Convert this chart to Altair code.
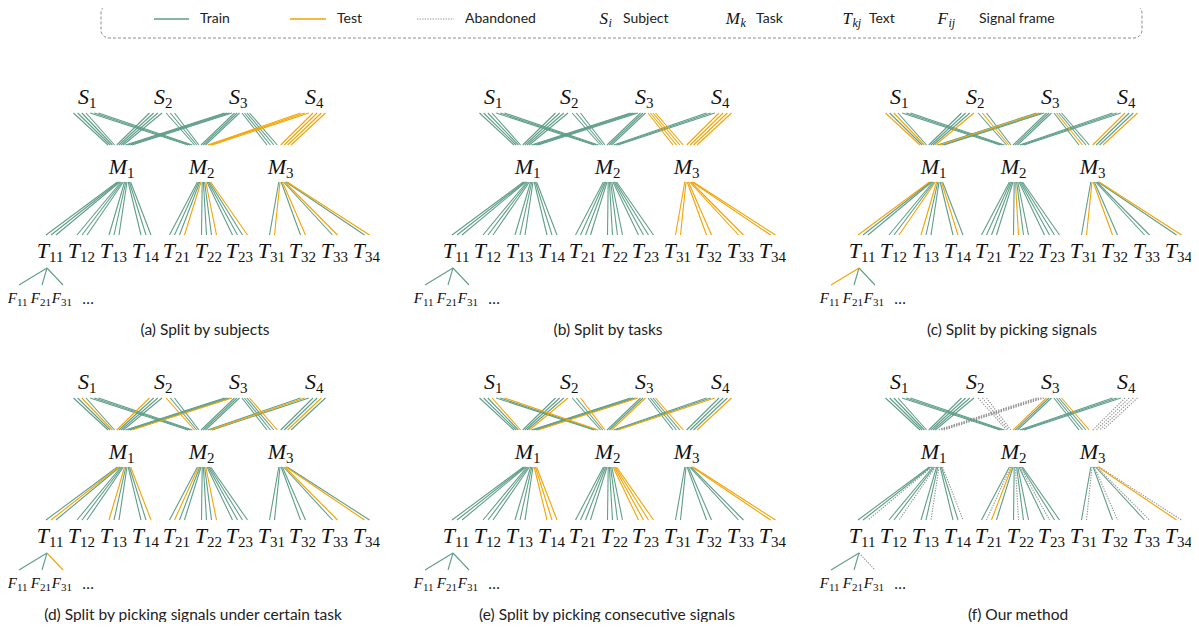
import altair as alt
import pandas as pd

# ---------------- data ----------------
SUBJECTS = ["S1", "S2", "S3", "S4"]
TASKS = ["M1", "M2", "M3"]
TEXTS = {"M1": ["T11", "T12", "T13", "T14"],
         "M2": ["T21", "T22", "T23"],
         "M3": ["T31", "T32", "T33", "T34"]}
TASK_SUBJECTS = {"M1": ["S1", "S2", "S3"],
                 "M2": ["S1", "S2", "S3", "S4"],
                 "M3": ["S3", "S4"]}
FRAMES = ["F11", "F21", "F31"]

CAPTIONS = ["(a) Split by subjects", "(b) Split by tasks", "(c) Split by picking signals",
            "(d) Split by picking signals under certain task",
            "(e) Split by picking consecutive signals", "(f) Our method"]

TEST_UNITS = [
    [("S4", "T21"), ("S4", "T22"), ("S4", "T23"), ("S4", "T31"), ("S4", "T32"), ("S4", "T33"), ("S4", "T34")],
    [("S3", "T31"), ("S3", "T32"), ("S3", "T33"), ("S3", "T34"), ("S4", "T31"), ("S4", "T32"), ("S4", "T33"), ("S4", "T34")],
    [("S1", "T11"), ("S3", "T12"), ("S1", "T13"), ("S2", "T14"), ("S2", "T22"), ("S4", "T31"), ("S3", "T32"), ("S4", "T34")],
    [("S2", "T11"), ("S1", "T13"), ("S3", "T14"), ("S2", "T21"), ("S4", "T22"), ("S4", "T33"), ("S3", "T34")],
    [("S1", "T14"), ("S2", "T14"), ("S3", "T14"), ("S1", "T23"), ("S2", "T23"), ("S3", "T23"), ("S4", "T23"), ("S3", "T34"), ("S4", "T34")],
    [("S3", "T21"), ("S3", "T34")],
]
ABANDONED_UNITS = [
    [], [], [], [], [],
    [("S3", "T11"), ("S3", "T12"), ("S3", "T13"), ("S3", "T14"),
     ("S2", "T21"), ("S2", "T22"), ("S2", "T23"),
     ("S4", "T31"), ("S4", "T32"), ("S4", "T33"), ("S4", "T34")],
]
FRAME_STATUS = [
    ["train", "train", "train"],
    ["train", "train", "train"],
    ["test", "train", "train"],
    ["train", "train", "test"],
    ["train", "train", "train"],
    ["train", "train", "abandoned"],
]

LEGEND_LINES = ["Train", "Test", "Abandoned"]
LEGEND_SYMBOLS = [("S", "i", "Subject"), ("M", "k", "Task"), ("T", "kj", "Text"), ("F", "ij", "Signal frame")]

# ---------------- layout (pixel positions within a panel) ----------------
S_X = [87, 163, 238, 314]
M_X = [122, 202, 281]
T_X = [49, 80, 112, 144, 175, 207, 238, 270, 301, 333, 365]
F_X = [19, 42, 63]
DOTS_X = 88
PANEL_DX = [0, 406, 812, 0, 406, 812]
PANEL_DY = [0, 0, 0, 285, 285, 285]
CAPTION_X = [205, 608, 1012, 193, 607, 1018]
S_LABEL_Y, SM_TOP, SM_BOT, M_LABEL_Y = 98, 113, 145, 168
MT_TOP, MT_BOT, T_LABEL_Y = 182, 235, 252
FT_TOP, FT_BOT, F_LABEL_Y, CAPTION_Y = 268, 285, 298, 330

GREEN, ORANGE, GREY = "#5f9e88", "#f5a300", "#8f8f8f"

ALL_T = [t for k in TASKS for t in TEXTS[k]]

segs, mains, subs, small_mains, small_subs, captions = [], [], [], [], [], []

for p in range(6):
    dx, dy = PANEL_DX[p], PANEL_DY[p]
    test = set(TEST_UNITS[p])
    aband = set(ABANDONED_UNITS[p])

    def status(s, t):
        if (s, t) in test:
            return "test"
        if (s, t) in aband:
            return "abandoned"
        return "train"

    units = [(s, k, t) for k in TASKS for t in TEXTS[k] for s in TASK_SUBJECTS[k]]
    start_sm = {}
    for si, s in enumerate(SUBJECTS):
        su = sorted([u for u in units if u[0] == s],
                    key=lambda u: (TASKS.index(u[1]), TEXTS[u[1]].index(u[2])))
        n = len(su)
        for idx, u in enumerate(su):
            start_sm[u] = S_X[si] - 1 - 12.5 + 25 * idx / (n - 1)
    end_sm, start_mt, end_mt = {}, {}, {}
    for ki, k in enumerate(TASKS):
        mu = sorted([u for u in units if u[1] == k],
                    key=lambda u: (SUBJECTS.index(u[0]), TEXTS[k].index(u[2])))
        n = len(mu)
        for idx, u in enumerate(mu):
            end_sm[u] = M_X[ki] - 2 - 12 + 24 * idx / (n - 1)
        mu2 = sorted([u for u in units if u[1] == k],
                     key=lambda u: (TEXTS[k].index(u[2]), SUBJECTS.index(u[0])))
        for idx, u in enumerate(mu2):
            start_mt[u] = M_X[ki] + 2 + (idx - (n - 1) / 2) * 1.2
        m = len(TASK_SUBJECTS[k])
        for u in mu:
            sj = TASK_SUBJECTS[k].index(u[0])
            end_mt[u] = T_X[ALL_T.index(u[2])] + 2 + (sj - (m - 1) / 2) * 5
    for u in units:
        st = status(u[0], u[2])
        segs.append(dict(x=start_sm[u] + dx, y=SM_TOP + dy, x2=end_sm[u] + dx, y2=SM_BOT + dy, status=st))
        segs.append(dict(x=start_mt[u] + dx, y=MT_TOP + dy, x2=end_mt[u] + dx, y2=MT_BOT + dy, status=st))
    for fi, f in enumerate(FRAMES):
        segs.append(dict(x=T_X[0] - 2 + dx, y=FT_TOP + dy, x2=F_X[fi] + dx, y2=FT_BOT + dy,
                         status=FRAME_STATUS[p][fi]))

    for si, s in enumerate(SUBJECTS):
        mains.append(dict(x=S_X[si] + 2 + dx, y=S_LABEL_Y + 6 + dy, text=s[0]))
        subs.append(dict(x=S_X[si] + 2 + dx, y=S_LABEL_Y + 10 + dy, text=s[1:]))
    for ki, k in enumerate(TASKS):
        mains.append(dict(x=M_X[ki] + 5 + dx, y=M_LABEL_Y + 6 + dy, text=k[0]))
        subs.append(dict(x=M_X[ki] + 5 + dx, y=M_LABEL_Y + 10 + dy, text=k[1:]))
    for ti, t in enumerate(ALL_T):
        mains.append(dict(x=T_X[ti] + dx, y=T_LABEL_Y + 6 + dy, text=t[0]))
        subs.append(dict(x=T_X[ti] + dx, y=T_LABEL_Y + 10 + dy, text=t[1:]))
    for fi, f in enumerate(FRAMES):
        small_mains.append(dict(x=F_X[fi] - 2 + dx, y=F_LABEL_Y + 5 + dy, text=f[0]))
        small_subs.append(dict(x=F_X[fi] - 2 + dx, y=F_LABEL_Y + 8 + dy, text=f[1:]))
    captions.append(dict(x=CAPTION_X[p], y=CAPTION_Y + dy, text=CAPTIONS[p]))
    captions.append(dict(x=DOTS_X + dx, y=F_LABEL_Y + 1 + dy, text="\u2026"))

seg_df = pd.DataFrame(segs)
xs = alt.Scale(domain=[8, 1191])
ys = alt.Scale(domain=[8, 622], reverse=True)
X = alt.X("x:Q", scale=xs, axis=None)
Y = alt.Y("y:Q", scale=ys, axis=None)


def rules(df, color, dash=None):
    kw = dict(color=color, strokeWidth=1.1)
    if dash:
        kw["strokeDash"] = dash
    return alt.Chart(df).mark_rule(**kw).encode(x=X, y=Y, x2="x2:Q", y2="y2:Q")


lay = [
    rules(seg_df[seg_df.status == "abandoned"], GREY, [1.3, 1.3]),
    rules(seg_df[seg_df.status == "train"], GREEN),
    rules(seg_df[seg_df.status == "test"], ORANGE),
]


def texts(rows, **kw):
    return alt.Chart(pd.DataFrame(rows)).mark_text(**kw).encode(x=X, y=Y, text="text:N")


lay += [
    texts(mains, font="Liberation Serif", fontStyle="italic", fontSize=22, align="right", baseline="alphabetic", color="#111"),
    texts(subs, font="Liberation Serif", fontSize=15, align="left", baseline="alphabetic", color="#111"),
    texts(small_mains, font="Liberation Serif", fontStyle="italic", fontSize=15, align="right", baseline="alphabetic", color="#111"),
    texts(small_subs, font="Liberation Serif", fontSize=11, align="left", baseline="alphabetic", color="#111"),
    texts(captions, font="Lato", fontSize=15.5, align="center", baseline="middle", color="#222"),
]

# ---------------- legend ----------------
LEG_Y = 19
box = alt.Chart(pd.DataFrame([dict(x=101, x2=1142, y=5, y2=38)])).mark_rect(
    fill=None, stroke="#8c8c8c", strokeDash=[3, 2], strokeWidth=1, cornerRadius=8
).encode(x=X, x2="x2:Q", y=Y, y2="y2:Q")
lay.append(box)
leg_line_x = [(154, 189), (290, 326), (417, 454)]
leg_text_x = [200, 337, 465]
leg_colors = [GREEN, ORANGE, GREY]
for i, name in enumerate(LEGEND_LINES):
    ldf = pd.DataFrame([dict(x=leg_line_x[i][0], x2=leg_line_x[i][1], y=LEG_Y, y2=LEG_Y)])
    kw = dict(color=leg_colors[i], strokeWidth=1.5)
    if name == "Abandoned":
        kw["strokeDash"] = [1.3, 1.3]
        kw["strokeWidth"] = 1
    lay.append(alt.Chart(ldf).mark_rule(**kw).encode(x=X, x2="x2:Q", y=Y, y2="y2:Q"))
sym_anchor = [608, 740, 852, 948]
sym_text_x = [623, 756, 869, 979]
leg_words = [dict(x=leg_text_x[i], y=LEG_Y, text=n) for i, n in enumerate(LEGEND_LINES)]
leg_words += [dict(x=sym_text_x[i], y=LEG_Y, text=w) for i, (_, _, w) in enumerate(LEGEND_SYMBOLS)]
leg_main = [dict(x=sym_anchor[i], y=LEG_Y + 5, text=m) for i, (m, _, _) in enumerate(LEGEND_SYMBOLS)]
leg_sub = [dict(x=sym_anchor[i] + 0.5, y=LEG_Y + 8, text=s) for i, (_, s, _) in enumerate(LEGEND_SYMBOLS)]
lay += [
    texts(leg_words, font="Lato", fontSize=14, align="left", baseline="middle", color="#222"),
    texts(leg_main, font="Liberation Serif", fontStyle="italic", fontSize=17, align="right", baseline="alphabetic", color="#111"),
    texts(leg_sub, font="Liberation Serif", fontStyle="italic", fontSize=12, align="left", baseline="alphabetic", color="#111"),
]

chart = alt.layer(*lay).properties(
    width=1183, height=614, autosize=alt.AutoSizeParams(type="none"), padding=0
).configure_view(stroke=None)

chart.save("out.html", embed_options={"renderer": "svg", "actions": False})
